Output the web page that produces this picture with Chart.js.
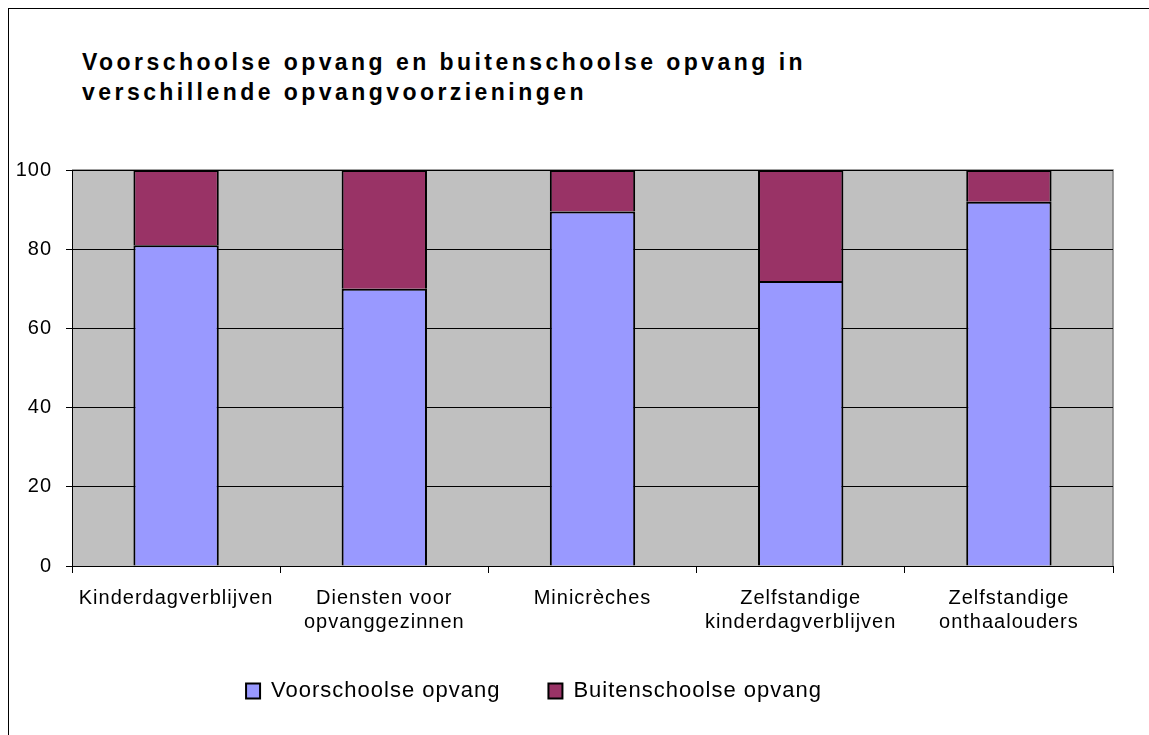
<!DOCTYPE html>
<html>
<head>
<meta charset="utf-8">
<script src="https://cdn.jsdelivr.net/npm/chart.js@4"></script>
<style>
  body { margin: 0; background: #fff; }
  #frame { position: absolute; left: 8px; top: 8px; width: 1141px; height: 727px;
           border-left: 1px solid #000; border-top: 1px solid #000; }
  #title { position: absolute; left: 82px; top: 47px; font-family: "Liberation Sans", Arial, sans-serif;
           font-weight: bold; font-size: 23px; letter-spacing: 3.45px; line-height: 30px; color: #000; }
  #wrap { position: absolute; left: 0; top: 0; width: 1149px; height: 735px; }
</style>
</head>
<body>
<div id="frame"></div>
<div id="title">Voorschoolse opvang en buitenschoolse opvang in<br>verschillende opvangvoorzieningen</div>
<div id="wrap"><canvas id="myChart"></canvas></div>
<script>
const categories = [
  "Kinderdagverblijven",
  ["Diensten voor", "opvanggezinnen"],
  "Minicrèches",
  ["Zelfstandige", "kinderdagverblijven"],
  ["Zelfstandige", "onthaalouders"]
];
const voorschools = [81, 70, 89.5, 72, 92];
const buitenschools = [19, 30, 10.5, 28, 8];

// grey plot area with a grey frame on top and right, like the old office charts
const plotBackground = {
  id: "plotBackground",
  beforeLayout(chart) {
    chart.ctx.letterSpacing = "1px";
  },
  afterLayout(chart) {
    // legend sits a bit left of the middle in the original
    chart.legend.right -= 45;
  },
  beforeDraw(chart) {
    const { ctx, chartArea } = chart;
    ctx.letterSpacing = "1px";
    ctx.save();
    ctx.fillStyle = "#C0C0C0";
    ctx.fillRect(chartArea.left, chartArea.top, chartArea.right - chartArea.left, chartArea.bottom - chartArea.top);
    ctx.strokeStyle = "#808080";
    ctx.lineWidth = 1.5;
    ctx.beginPath();
    ctx.moveTo(chartArea.left, chartArea.top);
    ctx.lineTo(chartArea.right, chartArea.top);
    ctx.lineTo(chartArea.right, chartArea.bottom);
    ctx.stroke();
    ctx.restore();
  }
};

const fontFamily = "'Liberation Sans', Arial, sans-serif";

const ctx = document.getElementById("myChart").getContext("2d");
new Chart(ctx, {
  type: "bar",
  data: {
    labels: categories,
    datasets: [
      {
        label: "Voorschoolse opvang",
        data: voorschools,
        backgroundColor: "#9999FF",
        borderColor: "#000",
        borderWidth: 2
      },
      {
        label: "Buitenschoolse opvang",
        data: buitenschools,
        backgroundColor: "#993366",
        borderColor: "#000",
        borderWidth: 2
      }
    ]
  },
  options: {
    responsive: true,
    maintainAspectRatio: false,
    animation: false,
    layout: { padding: { left: 0, right: 36, top: 170, bottom: 23 } },
    datasets: { bar: { categoryPercentage: 1, barPercentage: 0.41 } },
    scales: {
      x: {
        stacked: true,
        grid: { offset: true, drawOnChartArea: false, color: "#000", tickLength: 7 },
        border: { color: "#000", width: 1 },
        ticks: {
          maxRotation: 0, autoSkip: false, padding: 13, color: "#000",
          font: { family: fontFamily, size: 20, lineHeight: 1.2 }
        },
        afterFit(scale) { scale.height = 66; }
      },
      y: {
        stacked: true,
        min: 0,
        max: 100,
        ticks: { stepSize: 20, padding: 14, color: "#000", font: { family: fontFamily, size: 20 } },
        grid: { color: "#000", tickLength: 6 },
        border: { color: "#000", width: 1 },
        afterFit(scale) { scale.width = 72; }
      }
    },
    plugins: {
      legend: {
        position: "bottom",
        labels: {
          boxWidth: 14, boxHeight: 15, padding: 48, color: "#000",
          font: { family: fontFamily, size: 22 }
        }
      },
      tooltip: { enabled: false }
    }
  },
  plugins: [plotBackground]
});
</script>
</body>
</html>
